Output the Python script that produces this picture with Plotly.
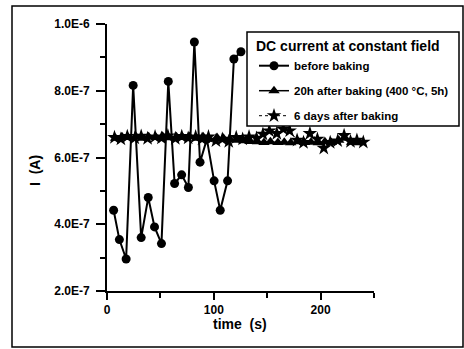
import plotly.graph_objects as go

# ---- data ----
t_before = [6.2, 11.6, 17.9, 24.5, 32.0, 38.6, 44.5, 51.0, 57.4, 63.3, 69.9, 76.2, 81.8, 87.1,
            93.5, 100.3, 106.0, 112.9, 118.8, 125.4]
i_before = [4.42e-7, 3.54e-7, 2.96e-7, 8.16e-7, 3.60e-7, 4.80e-7, 3.92e-7, 3.42e-7, 8.28e-7,
            5.22e-7, 5.48e-7, 5.10e-7, 9.46e-7, 5.86e-7, 6.55e-7, 5.30e-7, 4.42e-7, 5.30e-7,
            8.95e-7, 9.17e-7]

t_20h = [8, 14, 20, 27, 33, 39, 46, 52, 58, 65, 71, 77, 84, 90, 96, 103, 109, 115, 122, 128,
         134, 141, 147, 153, 160, 166, 172, 179, 185, 191, 198, 204, 210, 217, 223, 229, 236]
i_20h = [6.58e-7, 6.62e-7, 6.60e-7, 6.63e-7, 6.58e-7, 6.62e-7, 6.60e-7, 6.64e-7, 6.59e-7,
         6.62e-7, 6.60e-7, 6.63e-7, 6.58e-7, 6.62e-7, 6.55e-7, 6.60e-7, 6.58e-7, 6.55e-7,
         6.52e-7, 6.50e-7, 6.48e-7, 6.47e-7, 6.45e-7, 6.47e-7, 6.45e-7, 6.46e-7, 6.44e-7,
         6.47e-7, 6.45e-7, 6.46e-7, 6.44e-7, 6.47e-7, 6.45e-7, 6.52e-7, 6.58e-7, 6.46e-7, 6.44e-7]

t_6d = [7, 13, 19, 26, 32, 38, 45, 51, 57, 64, 70, 76, 83, 89, 95, 102, 108, 114, 121, 127,
        133, 140, 146, 152, 159, 165, 171, 178, 184, 190, 197, 203, 209, 216, 222, 228, 234, 240]
i_6d = [6.60e-7, 6.55e-7, 6.63e-7, 6.58e-7, 6.64e-7, 6.57e-7, 6.62e-7, 6.58e-7, 6.65e-7,
        6.57e-7, 6.63e-7, 6.58e-7, 6.62e-7, 6.55e-7, 6.62e-7, 6.50e-7, 6.55e-7, 6.48e-7,
        6.60e-7, 6.55e-7, 6.62e-7, 6.58e-7, 6.70e-7, 6.80e-7, 6.72e-7, 6.85e-7, 6.80e-7,
        6.52e-7, 6.45e-7, 6.72e-7, 6.55e-7, 6.28e-7, 6.45e-7, 6.50e-7, 6.66e-7, 6.48e-7,
        6.52e-7, 6.46e-7]

y_tickvals = [2e-7, 4e-7, 6e-7, 8e-7, 1e-6]
y_ticktext = ["2.0E-7", "4.0E-7", "6.0E-7", "8.0E-7", "1.0E-6"]
x_tickvals = [0, 100, 200]
x_ticktext = ["0", "100", "200"]

FONT = "Liberation Sans, Arial, sans-serif"

fig = go.Figure()
fig.add_trace(go.Scatter(
    x=t_before, y=i_before, mode="lines+markers", name="before baking",
    legendgroup="a",
    line=dict(color="black", width=2),
    marker=dict(symbol="circle", size=9, color="black")))
fig.add_trace(go.Scatter(
    x=t_20h, y=i_20h, mode="lines+markers", name="20h after baking (400 °C, 5h)",
    legendgroup="b",
    line=dict(color="black", width=1.5),
    marker=dict(symbol="triangle-up", size=10, color="black")))
fig.add_trace(go.Scatter(
    x=t_6d, y=i_6d, mode="lines+markers", name="6 days after baking",
    legendgroup="c",
    line=dict(color="black", width=1, dash="dot"),
    marker=dict(symbol="star", size=11, color="black")))

L, R, T, B = 107, 90, 24, 58
W, H = 464, 349
pw, ph = W - L - R, H - T - B

def px(xp):
    return (xp - L) / pw

def py(yp):
    return (H - B - yp) / ph

# outer frame
fig.add_shape(type="rect", xref="paper", yref="paper",
              x0=px(12), x1=px(463), y0=py(347), y1=py(6),
              line=dict(color="black", width=1.5), fillcolor="rgba(0,0,0,0)")
# legend box
fig.add_shape(type="rect", xref="paper", yref="paper",
              x0=px(247), x1=px(459), y0=py(126), y1=py(32),
              line=dict(color="black", width=1.5), fillcolor="white", layer="above")

fig.add_annotation(text="I\u00a0 (A)", xref="paper", yref="paper", x=px(35), y=py(171),
                   xanchor="center", yanchor="middle",
                   textangle=-90, showarrow=False,
                   font=dict(family=FONT, size=14, color="black", weight="bold"))
fig.add_annotation(text="time\u00a0 (s)", xref="paper", yref="paper", x=px(240), y=py(324),
                   xanchor="center", yanchor="middle",
                   showarrow=False,
                   font=dict(family=FONT, size=14, color="black", weight="bold"))

fig.update_layout(
    width=W, height=H,
    margin=dict(l=L, r=R, t=T, b=B, autoexpand=False),
    paper_bgcolor="white", plot_bgcolor="white",
    font=dict(family=FONT, color="black"),
    showlegend=True,
    legend=dict(
        x=px(254), y=py(33), xanchor="left", yanchor="top",
        bgcolor="rgba(0,0,0,0)", borderwidth=0,
        font=dict(family=FONT, size=11.5, color="black", weight="bold"),
        title=dict(text="DC current at constant field",
                   font=dict(family=FONT, size=14, color="black", weight="bold")),
        tracegroupgap=6,
    ),
    xaxis=dict(
        range=[0, 250], showgrid=False, zeroline=False,
        showline=True, linecolor="black", linewidth=2,
        ticks="outside", ticklen=7, tickwidth=1.5, tickcolor="black",
        tickvals=x_tickvals, ticktext=x_ticktext,
        tickfont=dict(family=FONT, size=12, color="black", weight="bold"),
        minor=dict(tickvals=[50, 150, 250], ticks="outside", ticklen=5,
                   tickwidth=1.5, tickcolor="black"),
    ),
    yaxis=dict(
        range=[2e-7, 1e-6], showgrid=False, zeroline=False,
        showline=True, linecolor="black", linewidth=2,
        ticks="outside", ticklen=9, tickwidth=1.5, tickcolor="black",
        tickvals=y_tickvals, ticktext=y_ticktext,
        ticklabelstandoff=4,
        tickfont=dict(family=FONT, size=12, color="black", weight="bold"),
        minor=dict(tickvals=[3e-7, 5e-7, 7e-7, 9e-7], ticks="outside", ticklen=5,
                   tickwidth=1.5, tickcolor="black"),
    ),
)

fig.write_html("out.html")
